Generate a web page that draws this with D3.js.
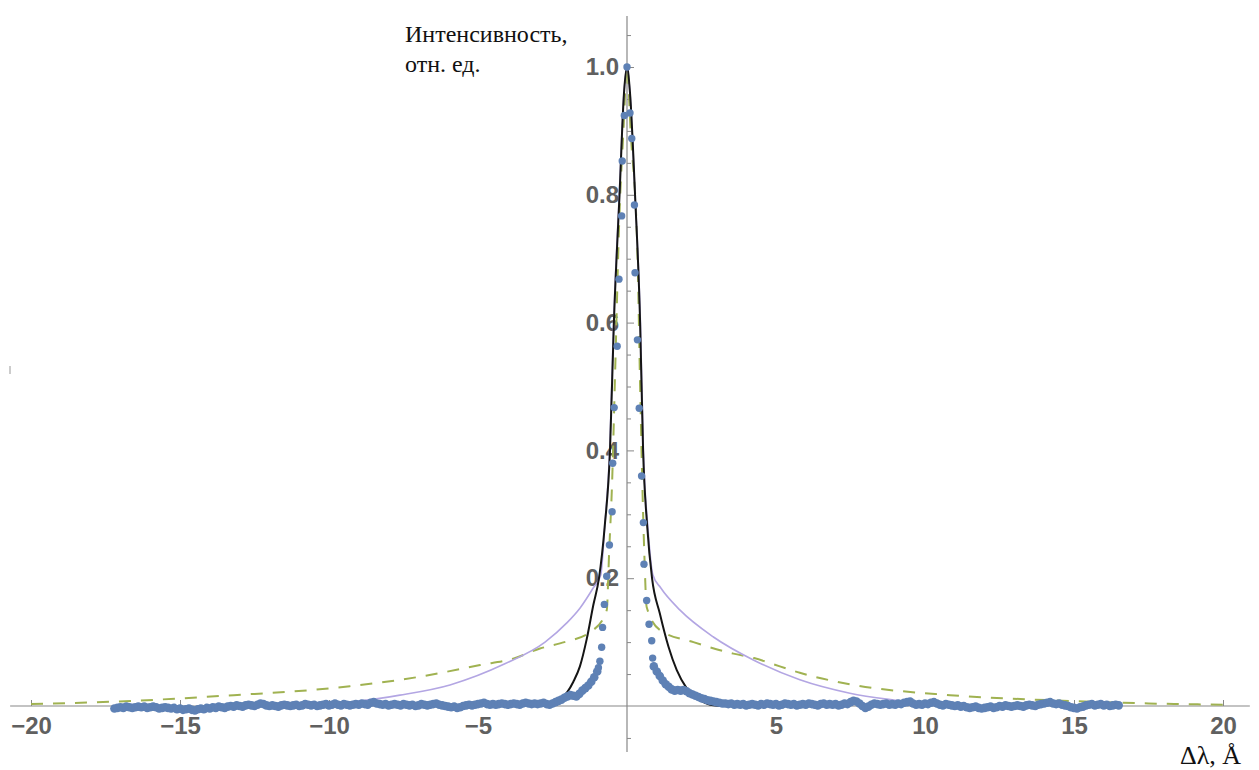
<!DOCTYPE html>
<html>
<head>
<meta charset="utf-8">
<script src="https://cdn.jsdelivr.net/npm/d3@7"></script>
<style>
  body { margin: 0; background: #fff; }
  svg { display: block; }
  .tick text { font-family: "Liberation Sans", Arial, sans-serif; font-weight: bold; font-size: 24px; fill: #606060; }
  .tick line { stroke: #888; }
  .axis-title { font-family: "Liberation Serif", "Times New Roman", serif; font-size: 24px; fill: #111; }
</style>
</head>
<body>
<svg id="chart" width="1259" height="770"></svg>
<script>

// Measured points: the narrow peak (Δλ, intensity)
var peakX = [-0.96, -0.91, -0.85, -0.82, -0.76, -0.68, -0.59, -0.50, -0.48, -0.43, -0.33, -0.27, -0.18, -0.16, -0.09, 0,
             0.10, 0.16, 0.25, 0.27, 0.35, 0.41, 0.49, 0.55, 0.57, 0.66, 0.74, 0.83, 0.86];
var peakY = [0.060, 0.070, 0.092, 0.123, 0.159, 0.203, 0.252, 0.304, 0.380, 0.467, 0.563, 0.668, 0.767, 0.853, 0.924, 1.0,
             0.928, 0.888, 0.784, 0.678, 0.573, 0.466, 0.360, 0.287, 0.222, 0.165, 0.128, 0.102, 0.075];

// Measured points: the wings, sampled every 0.1 Å
var tailStep = 0.1;
var tailLeftStart = -17.2;
var tailLeftY = [
  -0.004,-0.003,-0.002,-0.003,-0.001,-0.002,-0.003,-0.002,-0.001,-0.002,
  -0.001,-0.003,-0.002,-0.001,-0.002,-0.004,-0.003,-0.002,-0.003,-0.004,
  -0.003,-0.005,-0.004,-0.006,-0.005,-0.004,-0.006,-0.007,-0.005,-0.004,
  -0.005,-0.003,-0.004,-0.002,-0.003,-0.001,-0.002,-0.003,-0.001, 0.000,
  -0.001, 0.001, 0.000,-0.001, 0.001, 0.002, 0.001, 0.000, 0.002, 0.004,
   0.003, 0.001, 0.000, 0.001, 0.000,-0.001, 0.001, 0.002, 0.001, 0.000,
   0.001, 0.002, 0.000, 0.001, 0.003, 0.002, 0.001, 0.002, 0.000, 0.001,
   0.002, 0.003, 0.001, 0.002, 0.004, 0.002, 0.001, 0.003, 0.002, 0.001,
   0.002, 0.003, 0.002, 0.004, 0.003, 0.002, 0.005, 0.006, 0.004, 0.003,
   0.002, 0.003, 0.001, 0.002, 0.003, 0.002, 0.001, 0.003, 0.002, 0.001,
   0.002, 0.000, 0.001, 0.003, 0.002, 0.001, 0.002, 0.003, 0.004, 0.002,
   0.001, 0.000,-0.001,-0.002,-0.001,-0.003,-0.002, 0.000, 0.001, 0.002,
   0.001, 0.002, 0.003, 0.004, 0.005, 0.003, 0.002, 0.003, 0.002, 0.003,
   0.004, 0.003, 0.002, 0.003, 0.004, 0.003, 0.002, 0.004, 0.005, 0.004,
   0.003, 0.004, 0.003, 0.004, 0.005, 0.003, 0.002, 0.004, 0.006, 0.008,
   0.010, 0.013, 0.015, 0.017, 0.016, 0.015, 0.019, 0.024, 0.028, 0.032,
   0.038, 0.045, 0.054
];
var tailRightStart = 0.9;
var tailRightY = [
   0.062, 0.054, 0.047, 0.040, 0.034, 0.030, 0.026, 0.024, 0.025, 0.024,
   0.025, 0.023, 0.020, 0.018, 0.016, 0.014, 0.012, 0.011, 0.009, 0.008,
   0.007, 0.006, 0.005, 0.004, 0.004, 0.003, 0.004, 0.002, 0.003, 0.002,
   0.003, 0.001, 0.002, 0.003, 0.002, 0.001, 0.003, 0.002, 0.004, 0.003,
   0.002, 0.003, 0.001, 0.002, 0.004, 0.003, 0.002, 0.003, 0.001, 0.002,
   0.003, 0.002, 0.004, 0.003, 0.002, 0.001, 0.003, 0.004, 0.002, 0.003,
   0.002, 0.003, 0.001, 0.002, 0.004, 0.003, 0.006, 0.008, 0.007, 0.004,
   0.000,-0.003,-0.001, 0.002, 0.004, 0.003, 0.002, 0.003, 0.004, 0.002,
   0.003, 0.002, 0.004, 0.003, 0.005, 0.006, 0.007, 0.004, 0.002, 0.003,
   0.002, 0.004, 0.003, 0.005, 0.006, 0.004, 0.002, 0.001, 0.003, 0.002,
   0.001, 0.000, 0.001,-0.001, 0.000,-0.002,-0.003,-0.002,-0.001,-0.003,
  -0.004,-0.003,-0.002,-0.001,-0.003,-0.002, 0.000,-0.001, 0.001, 0.000,
  -0.001, 0.000, 0.001, 0.000,-0.001, 0.001, 0.002, 0.001, 0.000, 0.002,
   0.003, 0.004, 0.005, 0.006, 0.004, 0.003, 0.004, 0.002, 0.001, 0.000,
  -0.002,-0.003,-0.004,-0.002,-0.001, 0.001, 0.002, 0.003, 0.001, 0.002,
   0.003, 0.001, 0.002, 0.000, 0.001, 0.002, 0.001
];

// Fit curves
var blackX = [-3.2, -2.6, -2.25, -2.0, -1.8, -1.58, -1.35, -1.13, -0.94, -0.75, -0.57, -0.44, -0.25, -0.1, 0,
              0.1, 0.27, 0.44, 0.54, 0.68, 0.84, 1.1, 1.39, 1.67, 2.0, 2.45, 2.9, 3.3];
var blackY = [0, 0.002, 0.009, 0.022, 0.038, 0.062, 0.105, 0.158, 0.2, 0.28, 0.4, 0.6, 0.8, 0.96, 1.0,
              0.96, 0.8, 0.6, 0.4, 0.28, 0.2, 0.145, 0.093, 0.056, 0.028, 0.009, 0.001, 0];

var purpleX = [-10.5, -9.3, -7.62, -5.94, -4.1, -2.75, -2.02, -1.58, -1.13, -0.88, -0.75, -0.58, -0.45, -0.26, -0.1, 0,
               0.1, 0.27, 0.45, 0.55, 0.7, 0.87, 1.13, 1.78, 2.9, 4.24, 5.8, 7.48, 9.16, 10.5];
var purpleY = [0, 0.006, 0.017, 0.033, 0.066, 0.1, 0.13, 0.153, 0.185, 0.205, 0.28, 0.4, 0.6, 0.8, 0.96, 1.0,
               0.96, 0.8, 0.6, 0.4, 0.28, 0.205, 0.185, 0.15, 0.108, 0.072, 0.041, 0.020, 0.008, 0];

var greenX = [-20, -16.6, -13.2, -10.6, -9.3, -7.06, -4.93, -3.82, -2.92, -2.25, -1.13, -0.68, -0.6, -0.5, -0.4, -0.26, -0.12, 0,
              0.12, 0.35, 0.44, 0.58, 0.66, 1.1, 2.23, 3.57, 4.26, 5.13, 5.8, 7.48, 10.84, 14.2, 17.5, 20];
var greenY = [0.003, 0.008, 0.017, 0.025, 0.031, 0.045, 0.064, 0.074, 0.09, 0.098, 0.119, 0.15, 0.24, 0.35, 0.52, 0.76, 0.9, 1.0,
              0.9, 0.71, 0.5, 0.24, 0.155, 0.119, 0.1, 0.082, 0.075, 0.062, 0.052, 0.034, 0.017, 0.009, 0.004, 0.002];

// Axis ticks
var xMajorTicks = [-20, -15, -10, -5, 5, 10, 15, 20];
var yMajorTicks = [0.2, 0.4, 0.6, 0.8, 1.0];
var yMinorTicks = [-0.05, 0.05, 0.1, 0.15, 0.25, 0.3, 0.35, 0.45, 0.5, 0.55, 0.65, 0.7, 0.75, 0.85, 0.9, 0.95, 1.05];


var svg = d3.select('#chart');
svg.append('rect').attr('width', 1259).attr('height', 770).attr('fill', '#fff');

var xScale = d3.scaleLinear().domain([-20, 20]).range([31, 1223]);
var yScale = d3.scaleLinear().domain([0, 1]).range([706, 67]);

// Axis lines (Mathematica style, crossing at origin)
svg.append('line')
    .attr('x1', xScale(-20.7)).attr('x2', xScale(20.9))
    .attr('y1', yScale(0)).attr('y2', yScale(0))
    .attr('stroke', '#888').attr('stroke-width', 1.2);
svg.append('line')
    .attr('x1', xScale(0)).attr('x2', xScale(0))
    .attr('y1', yScale(1.08)).attr('y2', yScale(-0.072))
    .attr('stroke', '#888').attr('stroke-width', 1.2);

// x ticks point up, labels below
var xAxis = svg.append('g')
    .attr('transform', 'translate(0,' + yScale(0) + ')')
    .call(d3.axisBottom(xScale).tickValues(xMajorTicks).tickSizeInner(-6).tickSizeOuter(0).tickPadding(11));
xAxis.select('.domain').remove();

// y ticks point right, labels on the left
var yAxis = svg.append('g')
    .attr('transform', 'translate(' + xScale(0) + ',0)')
    .call(d3.axisLeft(yScale).tickValues(yMajorTicks).tickFormat(d3.format('.1f'))
        .tickSizeInner(-7).tickSizeOuter(0).tickPadding(8));
yAxis.select('.domain').remove();

var yMinor = svg.append('g')
    .attr('transform', 'translate(' + xScale(0) + ',0)')
    .call(d3.axisLeft(yScale).tickValues(yMinorTicks).tickFormat('').tickSizeInner(-4).tickSizeOuter(0));
yMinor.select('.domain').remove();

// Curves
var line = d3.line()
    .x(function(d) { return xScale(d[0]); })
    .y(function(d) { return yScale(d[1]); })
    .curve(d3.curveMonotoneX);

function pairs(xs, ys) {
    return xs.map(function(v, i) { return [v, ys[i]]; });
}

svg.append('path')
    .datum(pairs(greenX, greenY))
    .attr('d', line)
    .attr('fill', 'none')
    .attr('stroke', '#a0b251')
    .attr('stroke-width', 2)
    .attr('stroke-dasharray', '12,10');

svg.append('path')
    .datum(pairs(purpleX, purpleY))
    .attr('d', line)
    .attr('fill', 'none')
    .attr('stroke', '#b3a6e3')
    .attr('stroke-width', 1.6);

svg.append('path')
    .datum(pairs(blackX, blackY))
    .attr('d', line)
    .attr('fill', 'none')
    .attr('stroke', '#151515')
    .attr('stroke-width', 2);

// Measured points (wing dots drawn a bit larger, they merge into a band)
var points = [];
tailLeftY.forEach(function(v, i) { points.push([tailLeftStart + i * tailStep, v, 4.3]); });
peakX.forEach(function(v, i) { points.push([v, peakY[i], 3.7]); });
tailRightY.forEach(function(v, i) { points.push([tailRightStart + i * tailStep, v, 4.3]); });

svg.append('g').selectAll('circle')
    .data(points)
    .enter().append('circle')
    .attr('cx', function(d) { return xScale(d[0]); })
    .attr('cy', function(d) { return yScale(d[1]); })
    .attr('r', function(d) { return d[2]; })
    .attr('fill', '#5e81b5');

// Axis titles
var yTitle = svg.append('text').attr('class', 'axis-title').attr('x', 405).attr('y', 42);
yTitle.append('tspan').attr('x', 405).text('Интенсивность,');
yTitle.append('tspan').attr('x', 405).attr('dy', 30).text('отн. ед.');

svg.append('text').attr('class', 'axis-title')
    .attr('x', 1180).attr('y', 764)
    .style('font-size', '26px')
    .text('Δλ, Å');

// small stray mark at the left edge of the original
svg.append('line')
    .attr('x1', 10).attr('x2', 10).attr('y1', 366).attr('y2', 374)
    .attr('stroke', '#999').attr('stroke-width', 1);

</script>
</body>
</html>
